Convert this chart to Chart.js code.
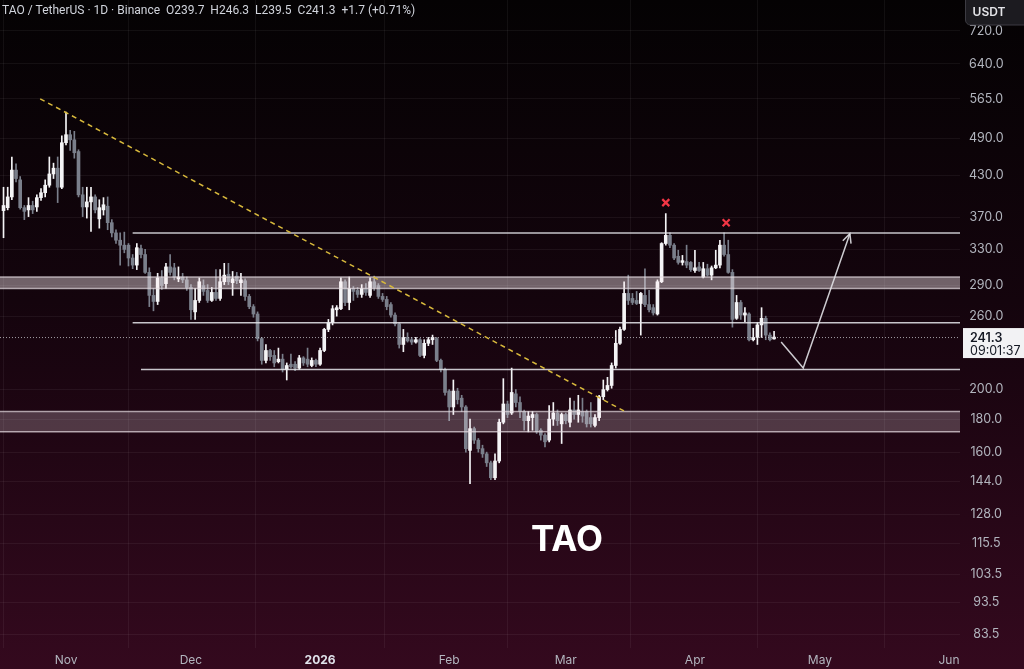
<!DOCTYPE html>
<html>
<head>
<meta charset="utf-8">
<script src="https://cdn.jsdelivr.net/npm/chart.js@4.4.1/dist/chart.umd.min.js"></script>
<style>
  html, body { margin: 0; padding: 0; background: #050204; }
  #wrap { width: 1024px; height: 669px; }
</style>
</head>
<body>
<div id="wrap"><canvas id="chart" width="1024" height="669"></canvas></div>
<script>
// daily candles, day 0 = 1 Nov; first candle is day -15
const firstDay = -15;
const opens = [
  379,383,398,438,423,383,380,386,384,397,
  404,415,432,441,412,483,497,488,468,401,
  384,391,398,368,380,385,363,350,341,335,
  335,320,312,331,324,304,280,274,298,292,
  310,309,297,299,296,288,264,275,290,285,
  275,283,277,294,302,293,300,293,295,279,
  269,262,240,222,230,226,221,223,215,219,
  219,216,224,223,218,222,219,230,248,254,
  266,267,294,273,287,285,281,287,280,294,
  290,279,276,271,261,253,235,241,239,237,
  239,226,236,239,240,222,215,199,188,199,
  194,188,161,174,167,162,159,154,146,155,
  178,190,184,197,191,185,179,181,183,173,
  170,167,180,184,177,183,178,186,183,185,
  185,181,176,181,195,200,203,218,236,248,
  282,277,275,272,280,271,268,262,294,337,
  347,335,322,315,316,315,306,310,299,308,
  301,309,312,335,324,304,258,273,261,262,
  239,241,252,258,243,239.7
];
const highs = [
  412,412,459,448,428,386,397,392,401,410,
  423,459,449,459,495,539,505,503,471,412,
  412,412,401,394,397,398,367,354,350,351,
  337,324,337,335,330,309,287,303,306,314,
  324,314,310,303,299,291,287,298,296,291,
  288,307,307,314,314,305,304,303,297,281,
  271,264,241,235,231,230,232,227,220,227,
  221,226,225,232,224,223,232,249,257,270,
  270,298,296,299,289,288,291,292,298,300,
  292,282,279,273,263,254,248,245,241,241,
  240,239,241,243,241,223,216,200,207,201,
  196,189,180,175,168,164,160,155,159,180,
  208,192,216,200,195,186,185,185,184,174,
  171,189,191,186,184,184,194,192,196,194,
  186,191,183,196,207,209,220,247,250,294,
  301,282,284,283,308,285,271,296,338,375,
  350,337,329,323,335,316,329,315,315,313,
  311,329,341,350,341,307,280,275,268,263,
  249,254,268,260,245,246.3
];
const lows = [
  344,380,394,420,381,367,371,375,378,393,
  398,412,425,390,410,479,470,457,398,371,
  369,352,376,356,373,354,345,337,312,326,
  311,308,307,320,303,269,265,271,286,287,
  301,296,294,293,285,257,257,273,280,273,
  274,275,275,291,291,280,292,280,275,267,
  259,238,219,220,222,217,220,213,207,216,
  214,215,218,217,217,217,218,229,246,252,
  260,266,270,266,275,278,278,280,278,285,
  277,274,266,259,251,232,229,237,235,236,
  225,224,234,235,221,213,196,179,183,190,
  185,160,143,165,160,157,152,145,145,154,
  177,181,183,188,181,173,172,173,171,167,
  163,166,176,176,165,177,175,180,178,178,
  175,175,175,179,193,199,201,216,235,247,
  271,271,271,243,269,264,261,261,293,335,
  332,318,313,312,309,305,304,305,298,300,
  296,308,309,322,303,250,257,257,255,238,
  238,235,241,239,238,239.5
];
const closes = [
  386,398,438,425,383,378,386,380,397,404,
  415,432,441,412,483,497,488,466,401,384,
  391,398,380,383,387,363,350,341,335,330,
  320,312,332,324,304,280,274,298,290,310,
  304,299,299,296,288,266,275,294,284,275,
  283,277,294,301,294,297,295,296,279,269,
  262,240,222,230,225,220,223,215,218,217,
  216,224,220,219,222,219,230,248,254,267,
  268,294,273,287,284,281,287,283,294,288,
  279,276,269,261,253,235,241,238,237,239,
  226,236,239,241,222,215,198,188,199,193,
  188,162,174,167,162,159,154,146,155,178,
  190,183,198,191,185,179,182,183,172,170,
  166,180,184,179,183,179,186,183,186,182,
  177,177,181,195,200,203,218,236,248,282,
  275,273,272,282,271,266,263,294,337,347,
  335,320,315,317,312,307,309,306,308,301,
  309,312,335,324,304,257,273,261,263,239,
  241,252,258,243,239,241.3
];

const monthDays = [0, 30, 61, 92, 120, 151, 181, 212];
const monthLabels = ['Nov', 'Dec', '2026', 'Feb', 'Mar', 'Apr', 'May', 'Jun'];
const priceTicks = [720, 640, 565, 490, 430, 370, 330, 290, 260, 200, 180, 160, 144, 128, 115.5, 103.5, 93.5, 83.5];

// drawings
const levelPrices = [350, 254, 215];
const levelStartDays = [16, 16, 18];
const bandLows = [287, 172];
const bandHighs = [299, 185];
const trendDays = [-6.2, 134.2];
const trendPrices = [565, 185];
const arrowDays = [171.7, 177, 188.2];
const arrowPrices = [237, 216, 349];
const markDays = [144, 158.5];
const markPrices = [390, 363];
const lastPrice = 241.3;
const labelDay = 120.3, labelPrice = 116.5;

const UP = '#f4f4f6', DOWN = '#7a7f8b';
const wicks = [], bodies = [], colors = [];
opens.forEach((o, i) => {
  const d = firstDay + i;
  wicks.push({ x: d, y: [lows[i], highs[i]] });
  bodies.push({ x: d, y: [o, closes[i]] });
  colors.push(closes[i] >= o ? UP : DOWN);
});

const FONT = 'Inter, "Noto Sans", sans-serif';

const overlay = {
  id: 'overlay',
  beforeDraw(chart) {
    const { ctx, width, height } = chart;
    const g = ctx.createLinearGradient(0, 0, 0, height);
    g.addColorStop(0, '#040203');
    g.addColorStop(0.45, '#14040d');
    g.addColorStop(1, '#34091e');
    ctx.save();
    ctx.fillStyle = g;
    ctx.fillRect(0, 0, width, height);
    ctx.restore();
  },
  afterDatasetsDraw(chart) {
    const { ctx, chartArea: a, scales: { x, y } } = chart;
    ctx.save();
    ctx.beginPath();
    ctx.rect(a.left, a.top, a.right - a.left, a.bottom - a.top);
    ctx.clip();

    // zones
    bandLows.forEach((lo, i) => {
      const y1 = y.getPixelForValue(bandHighs[i]);
      const y2 = y.getPixelForValue(lo);
      ctx.fillStyle = i === 0 ? 'rgba(255,240,245,0.40)' : 'rgba(255,235,245,0.22)';
      ctx.fillRect(a.left, y1, a.right - a.left, y2 - y1);
      ctx.strokeStyle = 'rgba(230,220,225,0.7)';
      ctx.lineWidth = 1.5;
      [y1, y2].forEach(yy => {
        ctx.beginPath(); ctx.moveTo(a.left, yy); ctx.lineTo(a.right, yy); ctx.stroke();
      });
    });

    // last price dotted line
    const py = y.getPixelForValue(lastPrice);
    ctx.setLineDash([1, 2]);
    ctx.strokeStyle = 'rgba(210,210,215,0.75)';
    ctx.lineWidth = 1;
    ctx.beginPath(); ctx.moveTo(a.left, py + 0.5); ctx.lineTo(a.right, py + 0.5); ctx.stroke();
    ctx.setLineDash([]);

    // horizontal levels
    ctx.strokeStyle = 'rgba(232,232,236,0.85)';
    ctx.lineWidth = 1.5;
    levelPrices.forEach((p, i) => {
      const yy = y.getPixelForValue(p);
      ctx.beginPath(); ctx.moveTo(x.getPixelForValue(levelStartDays[i]), yy); ctx.lineTo(a.right, yy); ctx.stroke();
    });

    // trendline
    ctx.setLineDash([5, 4]);
    ctx.strokeStyle = '#d8b93c';
    ctx.lineWidth = 1.5;
    ctx.beginPath();
    ctx.moveTo(x.getPixelForValue(trendDays[0]), y.getPixelForValue(trendPrices[0]));
    ctx.lineTo(x.getPixelForValue(trendDays[1]), y.getPixelForValue(trendPrices[1]));
    ctx.stroke();
    ctx.setLineDash([]);

    // projected path arrow
    const pts = arrowDays.map((d, i) => [x.getPixelForValue(d), y.getPixelForValue(arrowPrices[i])]);
    ctx.strokeStyle = 'rgba(225,225,230,0.9)';
    ctx.lineWidth = 1.5;
    ctx.beginPath();
    pts.forEach((p, i) => i ? ctx.lineTo(p[0], p[1]) : ctx.moveTo(p[0], p[1]));
    ctx.stroke();
    const [tx, ty] = pts[pts.length - 1], [sx, sy] = pts[pts.length - 2];
    const ang = Math.atan2(ty - sy, tx - sx);
    ctx.beginPath();
    ctx.moveTo(tx - 10 * Math.cos(ang - 0.45), ty - 10 * Math.sin(ang - 0.45));
    ctx.lineTo(tx, ty);
    ctx.lineTo(tx - 10 * Math.cos(ang + 0.45), ty - 10 * Math.sin(ang + 0.45));
    ctx.stroke();

    // red crosses above the two tops
    ctx.strokeStyle = '#f23645';
    ctx.lineWidth = 2.2;
    markDays.forEach((d, i) => {
      const mx = x.getPixelForValue(d), my = y.getPixelForValue(markPrices[i]);
      ctx.beginPath();
      ctx.moveTo(mx - 3.5, my - 3.5); ctx.lineTo(mx + 3.5, my + 3.5);
      ctx.moveTo(mx + 3.5, my - 3.5); ctx.lineTo(mx - 3.5, my + 3.5);
      ctx.stroke();
    });

    // big label
    ctx.fillStyle = '#ffffff';
    ctx.font = '700 35px ' + FONT;
    ctx.textAlign = 'center';
    ctx.textBaseline = 'middle';
    ctx.fillText('TAO', x.getPixelForValue(labelDay), y.getPixelForValue(labelPrice));
    ctx.restore();
  },
  afterDraw(chart) {
    const { ctx, scales: { y } } = chart;
    ctx.save();
    // header
    ctx.font = '12px Roboto, sans-serif';
    ctx.fillStyle = '#d1d4dc';
    ctx.textBaseline = 'middle';
    ctx.textAlign = 'left';
    ctx.fillText('TAO / TetherUS · 1D · Binance  O239.7  H246.3  L239.5  C241.3  +1.7 (+0.71%)', 2, 11);

    // currency box
    ctx.fillStyle = '#1c1b20';
    ctx.strokeStyle = '#3c3b42';
    ctx.lineWidth = 1;
    ctx.beginPath();
    ctx.roundRect(965.5, -5, 64, 30, 5);
    ctx.fill(); ctx.stroke();
    ctx.fillStyle = '#e4e4e8';
    ctx.font = '600 12px ' + FONT;
    ctx.textAlign = 'center';
    ctx.fillText('USDT', 989, 12);

    // last price tag
    const py = y.getPixelForValue(lastPrice);
    ctx.fillStyle = '#f2f2f4';
    ctx.fillRect(963, py - 9, 61, 30);
    ctx.fillStyle = '#131722';
    ctx.textAlign = 'left';
    ctx.font = '600 12.5px ' + FONT;
    ctx.fillText(lastPrice.toFixed(1), 970, py + 1);
    ctx.font = '12.5px ' + FONT;
    ctx.fillText('09:01:37', 970, py + 14);
    ctx.restore();
  }
};

new Chart(document.getElementById('chart'), {
  type: 'bar',
  data: {
    datasets: [
      { label: 'wick', data: wicks, backgroundColor: colors, barThickness: 1, grouped: false, order: 2 },
      { label: 'body', data: bodies, backgroundColor: colors, barThickness: 3, grouped: false, minBarLength: 1, order: 1 }
    ]
  },
  options: {
    responsive: false,
    devicePixelRatio: 1,
    animation: false,
    layout: { padding: 0 },
    plugins: { legend: { display: false }, tooltip: { enabled: false } },
    scales: {
      x: {
        type: 'linear',
        min: -15.846,
        max: 214.64,
        offset: false,
        border: { display: false },
        grid: { color: 'rgba(255,255,255,0.055)', drawTicks: false },
        afterBuildTicks: s => { s.ticks = monthDays.map(v => ({ value: v })); },
        afterFit: s => { s.height = 21; s.paddingLeft = 0; s.paddingRight = 0; },
        ticks: {
          autoSkip: false,
          maxRotation: 0,
          padding: 5,
          color: c => c.index === 2 ? '#e0e3eb' : '#b2b5be',
          font: c => ({ family: FONT, size: 12, weight: c.index === 2 ? '700' : '400' }),
          callback: (v, i) => monthLabels[i]
        }
      },
      y: {
        type: 'logarithmic',
        position: 'right',
        min: 79.5,
        max: 804,
        border: { display: false },
        grid: { color: 'rgba(255,255,255,0.055)', drawTicks: false },
        afterBuildTicks: s => { s.ticks = priceTicks.map(v => ({ value: v })); },
        afterFit: s => { s.width = 64; s.paddingTop = 0; s.paddingBottom = 0; },
        ticks: {
          autoSkip: false,
          padding: 9,
          crossAlign: 'center',
          color: '#b2b5be',
          font: { family: FONT, size: 12.5 },
          callback: v => Number(v).toFixed(1)
        }
      }
    }
  },
  plugins: [overlay]
});
</script>
</body>
</html>
